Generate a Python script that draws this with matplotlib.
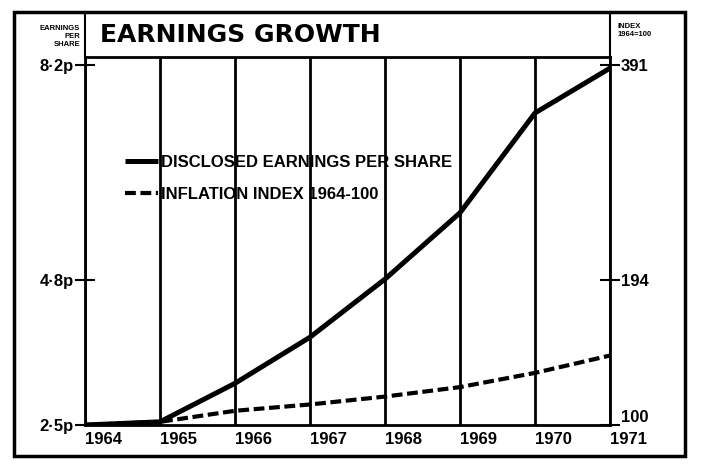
import matplotlib.pyplot as plt
from matplotlib.lines import Line2D
from matplotlib.patches import Rectangle

# data
years = [1964, 1965, 1966, 1967, 1968, 1969, 1970, 1971]
eps_pence = [2.5, 2.55, 3.16, 3.89, 4.81, 5.86, 7.44, 8.15]
inflation_index = [100, 102, 109, 113, 118, 124, 133, 144]  # 1964=100, drawn so 100 = 2.5p
left_ticks = [2.5, 4.8, 8.2]
left_labels = ["2·5p", "4·8p", "8·2p"]
right_labels = ["100", "194", "391"]

plt.rcParams['font.family'] = ['Liberation Sans', 'DejaVu Sans']

W, H = 712, 473
fig = plt.figure(figsize=(W / 100, H / 100), dpi=100)

def fx(px):
    return px / W

def fy(py):
    return 1 - py / H

# plot area: x 85..610, y 57..425 px
ax = fig.add_axes([fx(85), fy(425), fx(610) - fx(85), fy(57) - fy(425)])
ax.set_xlim(1964, 1971)
ax.set_ylim(2.5, 2.5 + (425 - 57) / 63.16)

infl_pence = [v * 2.5 / 100 for v in inflation_index]
ax.plot(years, eps_pence, color="black", lw=3.6, solid_capstyle="butt",
        label="DISCLOSED EARNINGS PER SHARE", zorder=3)
ax.plot(years, infl_pence, color="black", lw=3.0, dashes=(2.6, 1.1),
        label="INFLATION INDEX 1964-100", zorder=3)

for sp in ax.spines.values():
    sp.set_linewidth(2)
ax.grid(axis="x", color="black", lw=2)
ax.set_xticks(years)
ax.set_xticklabels([str(y) for y in years], ha="left", fontsize=12, fontweight="bold")
ax.tick_params(axis="x", length=0, pad=5)
ax.set_yticks(left_ticks)
ax.set_yticklabels(left_labels, fontsize=12, fontweight="bold")
ax.tick_params(axis="y", direction="inout", length=14, width=1.5, pad=1)

ax2 = ax.twinx()
ax2.set_ylim(ax.get_ylim())
ax2.set_yticks(left_ticks)
ax2.set_yticklabels(right_labels, fontsize=12, fontweight="bold")
ax2.tick_params(axis="y", direction="inout", length=14, width=1.5, pad=1)
ax2.get_yticklabels()[0].set_verticalalignment("bottom")
for sp in ax2.spines.values():
    sp.set_visible(False)

leg = ax.legend(loc="upper left", bbox_to_anchor=(0.076, 0.735), frameon=False,
                fontsize=12, handlelength=2.0, handletextpad=0.15,
                labelspacing=1.05, borderpad=0, borderaxespad=0)
for t in leg.get_texts():
    t.set_fontweight("bold")

# header and outer frame
fig.add_artist(Rectangle((fx(14), fy(456)), fx(685) - fx(14), fy(12) - fy(456),
                         fill=False, lw=2.5, color="black", transform=fig.transFigure))
for px in (85, 610):
    fig.add_artist(Line2D([fx(px), fx(px)], [fy(12), fy(57)], color="black", lw=1.5,
                          transform=fig.transFigure))

fig.text(fx(100), fy(35), "EARNINGS GROWTH", family="DejaVu Sans", fontweight="bold",
         fontsize=18, va="center", ha="left")
fig.text(fx(80), fy(36), "EARNINGS\nPER\nSHARE", fontsize=5.5, fontweight="bold",
         ha="right", va="center", linespacing=1.2)
fig.text(fx(618), fy(30), "INDEX\n1964=100", fontsize=5.5, fontweight="bold",
         ha="left", va="center", linespacing=1.2)

fig.savefig("out.png", dpi=100)
